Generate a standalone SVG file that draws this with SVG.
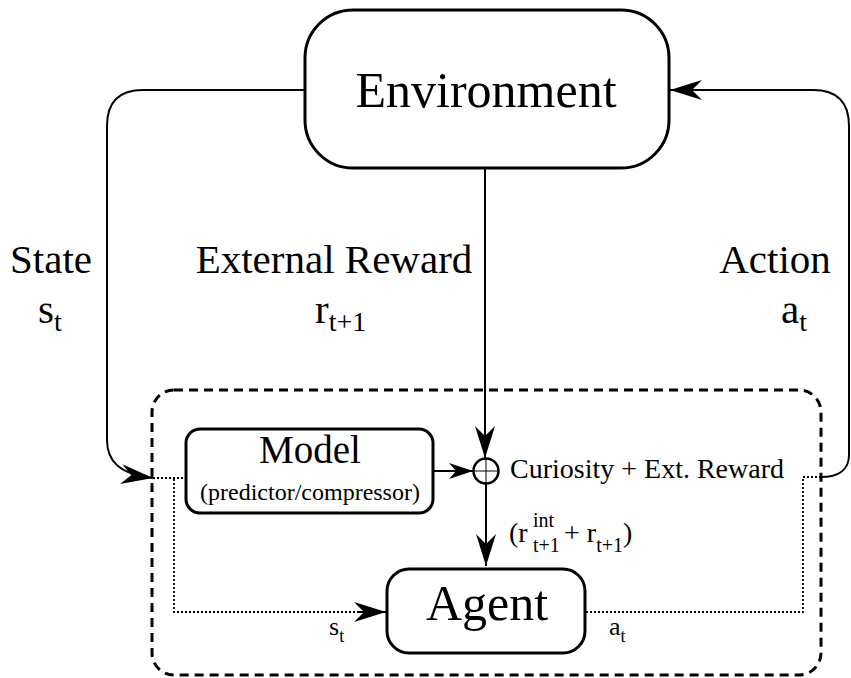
<svg xmlns="http://www.w3.org/2000/svg" width="851" height="678" viewBox="0 0 851 678" font-family="Liberation Serif, Times New Roman, serif">
<defs>
<marker id="arr" markerUnits="userSpaceOnUse" markerWidth="34" markerHeight="22" viewBox="0 0 34 22" refX="33" refY="11" orient="auto">
<path d="M33,11 L1,1 L11,11 L1,21 Z" fill="#000"/>
</marker>
<marker id="arrs" markerUnits="userSpaceOnUse" markerWidth="26" markerHeight="18" viewBox="0 0 26 18" refX="25" refY="9" orient="auto">
<path d="M25,9 L1,1 L8,9 L1,17 Z" fill="#000"/>
</marker>
<style>
.box{fill:#fff;stroke:#000;stroke-width:3}
.line{fill:none;stroke:#000;stroke-width:2}
.dot{fill:none;stroke:#000;stroke-width:1.8;stroke-dasharray:2 2}
.dash{fill:none;stroke:#000;stroke-width:3;stroke-dasharray:9 6}
</style>
</defs>

<rect class="dash" x="152" y="390" width="669" height="285" rx="22"/>

<g id="connectors">
<path class="line" d="M305,90 H143 Q107,90 107,126 V440 C107,462 120,474 153,478" marker-end="url(#arr)"/>
<path class="line" d="M821,477 C838,477 849,470 849,455 V126 Q849,90 813,90 H670" marker-end="url(#arr)"/>
<path class="line" d="M485,168 V458" marker-end="url(#arr)"/>
<path class="line" d="M433,471 H473" marker-end="url(#arrs)"/>
<path class="line" d="M486,484 V566" marker-end="url(#arr)"/>
<path class="dot" d="M153,478 H186"/>
<path class="dot" d="M174,479 V612 H362"/>
<path class="line" d="M358,612 H386" marker-end="url(#arr)"/>
<path class="dot" d="M586,612 H803 V477 H821"/>
</g>

<g id="environment">
<rect class="box" x="305" y="10" width="364" height="158" rx="48"/>
<text font-family="Liberation Serif" x="486" y="107" font-size="50" text-anchor="middle">Environment</text>
</g>

<g id="model" font-family="Liberation Serif">
<rect class="box" x="186" y="429" width="247" height="84" rx="14"/>
<text x="310" y="463" font-size="39" text-anchor="middle">Model</text>
<text x="310" y="500" font-size="24" text-anchor="middle">(predictor/compressor)</text>
</g>

<g id="sum" font-family="Liberation Serif">
<circle cx="486" cy="471" r="12.5" fill="#fff" stroke="#000" stroke-width="2.5"/>
<path d="M473.5,471 H498.5 M486,458.5 V483.5" stroke="#000" stroke-width="1" fill="none"/>
<text x="510" y="478" font-size="28">Curiosity + Ext. Reward</text>
</g>

<g id="agent" font-family="Liberation Serif">
<rect class="box" x="387" y="569" width="198" height="84" rx="22"/>
<text x="487" y="620" font-size="50" text-anchor="middle">Agent</text>
</g>

<g id="labels" font-family="Liberation Serif">
<text x="51" y="273" font-size="41" text-anchor="middle">State</text>
<text x="38" y="323" font-size="41">s<tspan font-size="28" dy="8">t</tspan></text>
<text x="334" y="273" font-size="41" text-anchor="middle">External Reward</text>
<text x="315" y="323" font-size="41">r<tspan font-size="28" dy="8">t+1</tspan></text>
<text x="775" y="273" font-size="41" text-anchor="middle">Action</text>
<text x="781" y="323" font-size="41">a<tspan font-size="28" dy="8">t</tspan></text>
<text x="509" y="542" font-size="28">(r</text>
<text x="533" y="527" font-size="20">int</text>
<text x="533" y="552" font-size="20">t+1</text>
<text x="564" y="542" font-size="28">+ r<tspan font-size="20" dy="10">t+1</tspan><tspan dy="-10">)</tspan></text>
<text x="329" y="635" font-size="26">s<tspan font-size="18" dy="7">t</tspan></text>
<text x="609" y="635" font-size="26">a<tspan font-size="18" dy="7">t</tspan></text>
</g>
</svg>
